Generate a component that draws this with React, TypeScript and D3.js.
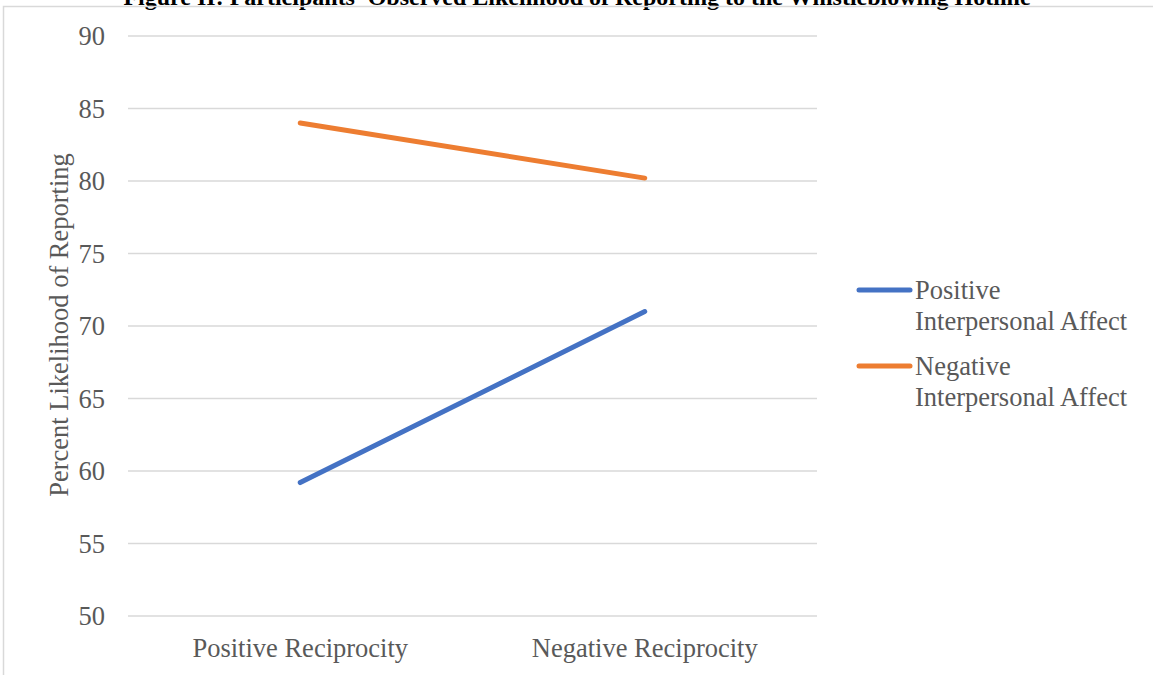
import React from "react";
import * as d3 from "d3";

const categories = ["Positive Reciprocity", "Negative Reciprocity"];
const positiveAffect = [59.2, 71.0];
const negativeAffect = [84.0, 80.2];
const yTicks = [50, 55, 60, 65, 70, 75, 80, 85, 90];
const seriesNames = [
  ["Positive", "Interpersonal Affect"],
  ["Negative", "Interpersonal Affect"],
];
const seriesColors = ["#4472C4", "#ED7D31"];
const title =
  "Figure II: Participants' Observed Likelihood of Reporting to the Whistleblowing Hotline";

export default function App() {
  const W = 1153;
  const H = 675;
  const font = "'Liberation Serif', 'Times New Roman', serif";
  const textColor = "#595959";
  const fs = 26.5;
  const x = d3.scalePoint<string>().domain(categories).range([128, 817]).padding(0.5);
  const y = d3.scaleLinear().domain([50, 90]).range([616, 36]);
  const line = d3
    .line<number>()
    .x((_, i) => x(categories[i]) as number)
    .y((d) => y(d));
  const series = [positiveAffect, negativeAffect];
  const legendY = [290, 366];

  return (
    <svg
      width={W}
      height={H}
      style={{ position: "fixed", left: 0, top: 0, background: "#fff" }}
      fontFamily={font}
    >
      <rect x={0} y={0} width={W} height={H} fill="#fff" />
      <text
        x={577}
        y={4.5}
        textAnchor="middle"
        fontWeight="bold"
        fontSize={24}
        fill="#000"
      >
        {title}
      </text>
      <path d={`M3.5,${H + 5} L3.5,6.5 L${W + 5},6.5`} fill="none" stroke="#D9D9D9" strokeWidth={1.5} />
      {yTicks.map((t) => (
        <g key={t}>
          <line x1={128} x2={817} y1={y(t)} y2={y(t)} stroke="#D9D9D9" strokeWidth={1.5} />
          <text x={105} y={y(t)} dy="0.35em" textAnchor="end" fontSize={fs} fill={textColor}>
            {t}
          </text>
        </g>
      ))}
      {categories.map((c) => (
        <text key={c} x={x(c)} y={648} dy="0.35em" textAnchor="middle" fontSize={fs} fill={textColor}>
          {c}
        </text>
      ))}
      <text
        transform={`translate(59,325) rotate(-90)`}
        textAnchor="middle"
        dy="0.35em"
        fontSize={fs}
        fill={textColor}
      >
        Percent Likelihood of Reporting
      </text>
      {series.map((s, i) => (
        <path
          key={i}
          d={line(s) as string}
          fill="none"
          stroke={seriesColors[i]}
          strokeWidth={5}
          strokeLinecap="round"
        />
      ))}
      {seriesNames.map((n, i) => (
        <g key={i}>
          <line
            x1={859}
            x2={910}
            y1={legendY[i]}
            y2={legendY[i]}
            stroke={seriesColors[i]}
            strokeWidth={5}
            strokeLinecap="round"
          />
          {n.map((t, j) => (
            <text key={j} x={915} y={legendY[i] + j * 31} dy="0.35em" fontSize={fs} fill={textColor}>
              {t}
            </text>
          ))}
        </g>
      ))}
    </svg>
  );
}
